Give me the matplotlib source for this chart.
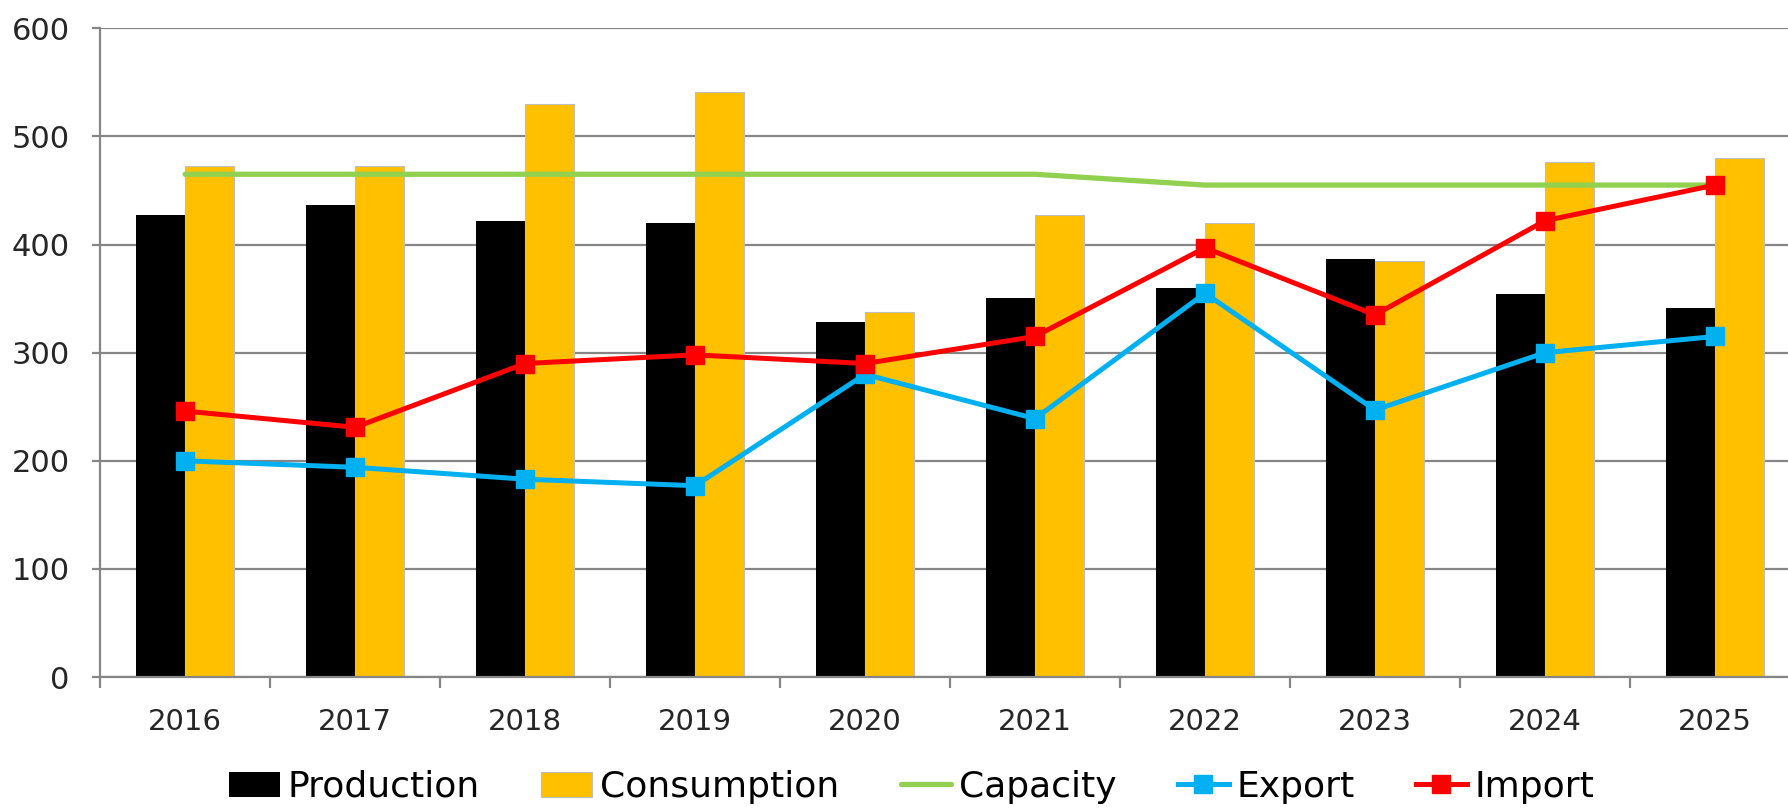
import matplotlib
matplotlib.use("Agg")
import matplotlib.pyplot as plt
import numpy as np

years = ["2016", "2017", "2018", "2019", "2020", "2021", "2022", "2023", "2024", "2025"]
production = [427, 437, 422, 420, 328, 351, 360, 387, 354, 341]
consumption = [473, 473, 530, 541, 338, 427, 420, 385, 476, 480]
capacity = [465, 465, 465, 465, 465, 465, 455, 455, 455, 455]
export = [200, 194, 183, 177, 280, 239, 355, 247, 300, 315]
imports = [246, 231, 290, 298, 290, 315, 397, 335, 422, 455]

plt.rcParams['font.family'] = ['DejaVu Sans']

fig = plt.figure(figsize=(17.88, 8.08), dpi=100)
ax = fig.add_axes([0.056, 0.162, 0.944, 0.803])

x = np.arange(len(years))
w = 0.29
grid_c = "#868686"

h_prod = ax.bar(x - w / 2, production, w, color="black", zorder=2, label="Production")
h_cons = ax.bar(x + w / 2, consumption, w, color="#FFC000", edgecolor="#BFBFBF", linewidth=0.8,
                zorder=2, label="Consumption")
h_cap, = ax.plot(x, capacity, color="#92D050", lw=3.8, zorder=3, label="Capacity",
                 solid_capstyle="round")
h_exp, = ax.plot(x, export, color="#00B0F0", lw=3.6, marker="s", ms=13, zorder=4, label="Export")
h_imp, = ax.plot(x, imports, color="#FF0000", lw=3.6, marker="s", ms=13, zorder=5, label="Import")

ax.set_ylim(0, 600)
ax.set_yticks(range(0, 601, 100))
ax.set_xlim(-0.5, 9.43)
ax.yaxis.grid(True, color=grid_c, lw=1.6, zorder=0)
ax.set_axisbelow(True)

ax.set_xticks(np.arange(-0.5, 9.5, 1.0))
ax.set_xticklabels([])
ax.set_xticks(x, minor=True)
ax.set_xticklabels(years, minor=True)
ax.tick_params(axis="x", which="major", length=8, width=1.6, color=grid_c, direction="out")
ax.tick_params(axis="x", which="minor", length=0, pad=22, labelsize=21, labelcolor="#262626")
ax.tick_params(axis="y", length=6, width=1.6, color=grid_c, labelsize=22, labelcolor="#262626", pad=16)

for s in ["top", "right"]:
    ax.spines[s].set_visible(False)
for s in ["left", "bottom"]:
    ax.spines[s].set_color(grid_c)
    ax.spines[s].set_linewidth(1.6)

handles = [h_prod, h_cons, h_cap, h_exp, h_imp]
labels = ["Production", "Consumption", "Capacity", "Export", "Import"]
leg = fig.legend(handles, labels, loc="center", bbox_to_anchor=(0.51, 0.026), ncol=5,
                 frameon=False, prop={"size": 26},
                 handlelength=1.4, handleheight=0.7, handletextpad=0.22, columnspacing=1.7)

fig.savefig("out.png", dpi=100)
